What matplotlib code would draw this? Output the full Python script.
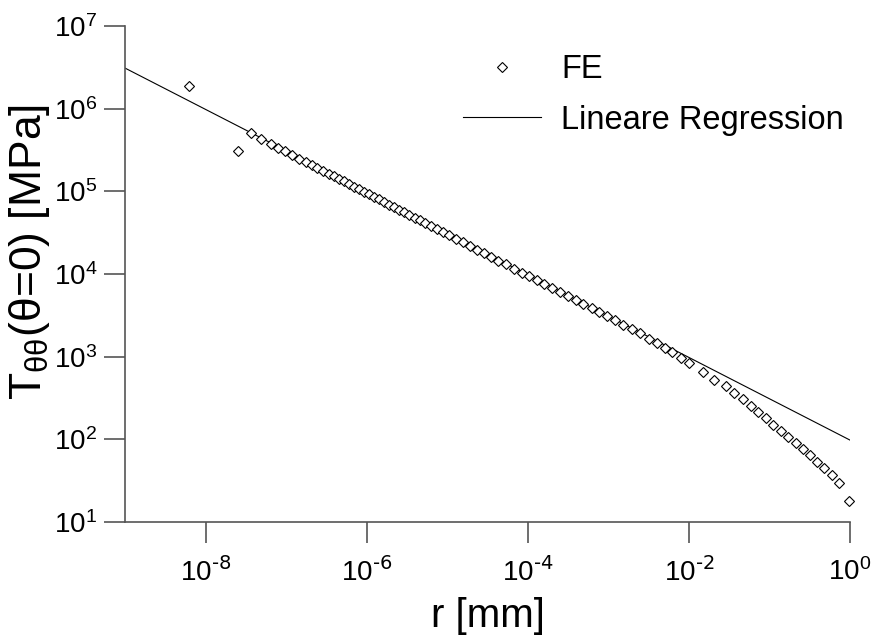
import numpy as np
import matplotlib
matplotlib.use("Agg")
import matplotlib.pyplot as plt
import matplotlib.ticker as ticker

plt.rcParams['font.family'] = ['Liberation Sans', 'DejaVu Sans']
plt.rcParams['mathtext.default'] = 'regular'

# FE results (log10 of r [mm] and T [MPa])
fe_log_r = [-8.206, -7.601, -7.436, -7.312, -7.188, -7.101, -7.008, -6.921,
            -6.834, -6.757, -6.682, -6.613, -6.538, -6.468, -6.402, -6.340,
            -6.278, -6.216, -6.154, -6.092, -6.030, -5.967, -5.905, -5.843,
            -5.781, -5.719, -5.657, -5.595, -5.533, -5.468, -5.404, -5.338,
            -5.270, -5.202, -5.127, -5.053, -4.972, -4.891, -4.804, -4.717,
            -4.631, -4.544, -4.457, -4.366, -4.271, -4.171, -4.076, -3.981,
            -3.890, -3.795, -3.696, -3.600, -3.505, -3.405, -3.311, -3.207,
            -3.112, -3.021, -2.918, -2.815, -2.710, -2.607, -2.492, -2.400,
            -2.297, -2.206, -2.102, -1.995, -1.829, -1.689, -1.540, -1.437,
            -1.332, -1.229, -1.139, -1.043, -0.953, -0.861, -0.766, -0.675,
            -0.580, -0.497, -0.406, -0.319, -0.228, -0.133, -0.009]
fe_log_T = [6.278, 5.488, 5.710, 5.636, 5.574, 5.530, 5.484, 5.440,
            5.397, 5.358, 5.321, 5.286, 5.249, 5.214, 5.181, 5.150,
            5.119, 5.088, 5.057, 5.026, 4.995, 4.964, 4.933, 4.902,
            4.871, 4.840, 4.809, 4.778, 4.747, 4.714, 4.682, 4.649,
            4.615, 4.581, 4.544, 4.507, 4.466, 4.426, 4.382, 4.339,
            4.296, 4.252, 4.209, 4.163, 4.116, 4.066, 4.018, 3.971,
            3.925, 3.878, 3.828, 3.780, 3.733, 3.683, 3.636, 3.584,
            3.536, 3.491, 3.439, 3.388, 3.335, 3.284, 3.218, 3.168,
            3.108, 3.052, 2.990, 2.925, 2.818, 2.718, 2.645, 2.564,
            2.484, 2.403, 2.334, 2.255, 2.174, 2.105, 2.032, 1.960,
            1.880, 1.811, 1.730, 1.650, 1.569, 1.468, 1.258]

# linear regression (in log-log), end points
fit_r = [1e-9, 1.0]
fit_T = [3.1e6, 98.0]

x_ticks = [1e-8, 1e-6, 1e-4, 1e-2, 1e0]
x_tick_labels = [r'$10^{\text{-8}}$', r'$10^{\text{-6}}$', r'$10^{\text{-4}}$',
                 r'$10^{\text{-2}}$', r'$10^{0}$']
y_ticks = [1e1, 1e2, 1e3, 1e4, 1e5, 1e6, 1e7]
y_tick_labels = ['$10^{1}$', '$10^{2}$', '$10^{3}$', '$10^{4}$', '$10^{5}$', '$10^{6}$', '$10^{7}$']

fe_r = 10 ** np.array(fe_log_r)
fe_T = 10 ** np.array(fe_log_T)

fig = plt.figure(figsize=(8.72, 6.42), dpi=100)
ax = fig.add_axes([0.1433, 0.1869, 0.8314, 0.7726])

ax.plot(fit_r, fit_T, color='black', linewidth=0.8, label='Lineare Regression', zorder=2)
ax.plot(fe_r, fe_T, linestyle='none', marker='D', markersize=5.5,
        markerfacecolor='white', markeredgecolor='black', markeredgewidth=0.8,
        label='FE', zorder=3, clip_on=False)

ax.set_xscale('log')
ax.set_yscale('log')
ax.set_xlim(1e-9, 1e0)
ax.set_ylim(1e1, 1e7)

ax.xaxis.set_major_locator(ticker.FixedLocator(x_ticks))
ax.xaxis.set_major_formatter(ticker.FixedFormatter(x_tick_labels))
ax.yaxis.set_major_locator(ticker.FixedLocator(y_ticks))
ax.yaxis.set_major_formatter(ticker.FixedFormatter(y_tick_labels))
ax.xaxis.set_minor_locator(ticker.NullLocator())
ax.yaxis.set_minor_locator(ticker.NullLocator())

for side in ['top', 'right']:
    ax.spines[side].set_visible(False)
for side in ['left', 'bottom']:
    ax.spines[side].set_color('#555555')
    ax.spines[side].set_linewidth(1.2)

ax.tick_params(axis='both', which='major', direction='out', length=15,
               width=1.2, color='#555555', labelsize=20)
ax.tick_params(axis='x', pad=11)
ax.tick_params(axis='y', pad=5)

ax.set_xlabel('r [mm]', fontsize=29)
ax.xaxis.set_label_coords(0.5, -0.152)
ax.set_ylabel('T$_{θθ}$(θ=0) [MPa]', fontsize=32)
ax.yaxis.set_label_coords(-0.10, 0.545)

# legend: FE first, then regression
handles, labels = ax.get_legend_handles_labels()
ax.legend([handles[1], handles[0]], [labels[1], labels[0]],
          loc='upper left', bbox_to_anchor=(463 / 872, 1 - 54 / 642),
          bbox_transform=fig.transFigure, frameon=False, fontsize=23.5,
          handlelength=2.4, handletextpad=0.6, labelspacing=0.6,
          borderpad=0, borderaxespad=0, numpoints=1)

fig.savefig('out.png', dpi=100)
